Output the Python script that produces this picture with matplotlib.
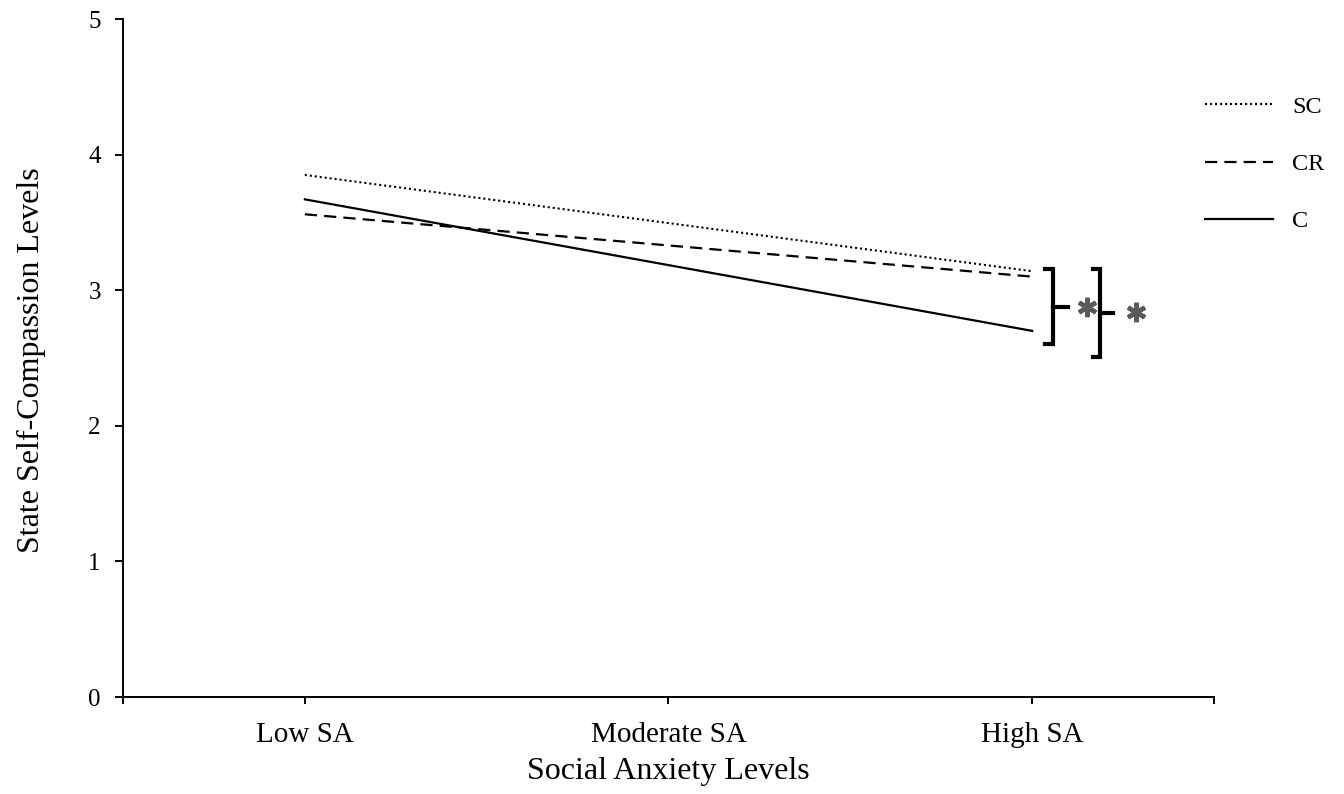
import matplotlib.pyplot as plt
from matplotlib.lines import Line2D

plt.rcParams['font.family'] = ['Liberation Serif', 'DejaVu Serif']

# data
levels = ["Low SA", "Moderate SA", "High SA"]
x_pos = [0, 2]  # Low SA and High SA endpoints
sc_vals = [3.85, 3.14]
cr_vals = [3.56, 3.10]
c_vals = [3.67, 2.70]
y_ticks = [0, 1, 2, 3, 4, 5]

fig = plt.figure(figsize=(13.44, 7.94), dpi=100)
ax = fig.add_axes([123 / 1344, 1 - 697 / 794, (1214 - 123) / 1344, (697 - 19) / 794])

ax.plot(x_pos, sc_vals, color="black", lw=1.5, linestyle=(0, (1, 1.4)), label="SC")
ax.plot(x_pos, cr_vals, color="black", lw=1.6, linestyle=(0, (5.5, 3.2)), label="CR")
ax.plot(x_pos, c_vals, color="black", lw=1.6, linestyle="-", label="C")

ax.set_xlim(-0.5, 2.5)
ax.set_ylim(0, 5)
ax.set_xticks([-0.5, 0, 1, 2, 2.5])
ax.set_xticklabels(["", levels[0], levels[1], levels[2], ""], fontsize=21)
ax.set_yticks(y_ticks)
ax.set_yticklabels([str(t) for t in y_ticks], fontsize=18)
ax.tick_params(axis="x", length=5, width=1.4, pad=13)
ax.tick_params(axis="y", length=6, width=1.4, pad=10)
for s in ["top", "right"]:
    ax.spines[s].set_visible(False)
for s in ["left", "bottom"]:
    ax.spines[s].set_linewidth(1.4)

fig.text(668 / 1344, 1 - 772 / 794, "Social Anxiety Levels", fontsize=23,
         ha="center", va="center")
fig.text(31 / 1344, 1 - 360 / 794, "State Self-Compassion Levels", fontsize=23,
         ha="center", va="center", rotation=90)

# significance brackets
def bracket(x_serif, x_spine, x_tick, y_top, y_bot, y_mid):
    ax.add_line(Line2D([x_serif, x_spine, x_spine, x_serif], [y_top, y_top, y_bot, y_bot],
                       color="black", lw=3, clip_on=False, solid_joinstyle="miter"))
    ax.add_line(Line2D([x_spine, x_tick], [y_mid, y_mid], color="black", lw=3, clip_on=False))

bracket(2.036, 2.058, 2.098, 3.155, 2.60, 2.875)
bracket(2.166, 2.187, 2.223, 3.155, 2.505, 2.83)
ax.plot([2.151, 2.286], [2.875, 2.838], linestyle="none", marker=(6, 2, 0),
        markersize=14, mew=3.2, color="#5a5a5a", clip_on=False)

ax.legend(loc="center left", bbox_to_anchor=(1183 / 1344, 1 - 164 / 794),
          bbox_transform=fig.transFigure, frameon=False, fontsize=17.5,
          handlelength=2.8, handletextpad=0.8, labelspacing=1.45)

fig.savefig("out.png", dpi=100)
